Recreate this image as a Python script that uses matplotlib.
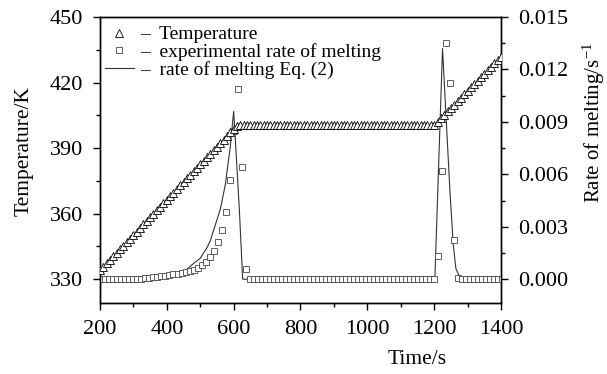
import matplotlib.pyplot as plt
from matplotlib.lines import Line2D
from matplotlib.ticker import MultipleLocator, FormatStrFormatter

plt.rcParams['font.family'] = ['Liberation Serif', 'DejaVu Serif']
plt.rcParams['mathtext.fontset'] = 'stix'

# 温度数据 (每10 s)
temp_time = [
    200, 210, 220, 230, 240, 250, 260, 270, 280, 290, 300, 310, 320, 330, 340,
    350, 360, 370, 380, 390, 400, 410, 420, 430, 440, 450, 460, 470, 480, 490,
    500, 510, 520, 530, 540, 550, 560, 570, 580, 590, 600, 610, 620, 630, 640,
    650, 660, 670, 680, 690, 700, 710, 720, 730, 740, 750, 760, 770, 780, 790,
    800, 810, 820, 830, 840, 850, 860, 870, 880, 890, 900, 910, 920, 930, 940,
    950, 960, 970, 980, 990, 1000, 1010, 1020, 1030, 1040, 1050, 1060, 1070,
    1080, 1090, 1100, 1110, 1120, 1130, 1140, 1150, 1160, 1170, 1180, 1190,
    1200, 1210, 1220, 1230, 1240, 1250, 1260, 1270, 1280, 1290, 1300, 1310,
    1320, 1330, 1340, 1350, 1360, 1370, 1380, 1390, 1400]
temperature = [
    334.0, 335.6, 337.2, 338.9, 340.5, 342.1, 343.7, 345.3, 347.0, 348.6,
    350.2, 351.8, 353.4, 355.1, 356.7, 358.3, 359.9, 361.5, 363.2, 364.8,
    366.4, 368.0, 369.6, 371.3, 372.9, 374.5, 376.1, 377.7, 379.4, 381.0,
    382.6, 384.2, 385.8, 387.5, 389.1, 390.7, 392.3, 393.9, 395.6, 397.2,
    398.8, 400.2, 400.5, 400.5, 400.5, 400.5, 400.5, 400.5, 400.5, 400.5,
    400.5, 400.5, 400.5, 400.5, 400.5, 400.5, 400.5, 400.5, 400.5, 400.5,
    400.5, 400.5, 400.5, 400.5, 400.5, 400.5, 400.5, 400.5, 400.5, 400.5,
    400.5, 400.5, 400.5, 400.5, 400.5, 400.5, 400.5, 400.5, 400.5, 400.5,
    400.5, 400.5, 400.5, 400.5, 400.5, 400.5, 400.5, 400.5, 400.5, 400.5,
    400.5, 400.5, 400.5, 400.5, 400.5, 400.5, 400.5, 400.5, 400.5, 400.5,
    400.5, 402.1, 403.7, 405.2, 406.8, 408.4, 409.9, 411.5, 413.1, 414.7,
    416.2, 417.8, 419.4, 420.9, 422.5, 424.1, 425.6, 427.2, 428.8, 430.4,
    431.9]

# 实验熔化速率 (每12 s)
exp_time = [
    192, 204, 216, 228, 240, 252, 264, 276, 288, 300, 312, 324, 336, 348, 360,
    372, 384, 396, 408, 420, 432, 444, 456, 468, 480, 492, 504, 516, 528, 540,
    552, 564, 576, 588, 600, 612, 624, 636, 648, 660, 672, 684, 696, 708, 720,
    732, 744, 756, 768, 780, 792, 804, 816, 828, 840, 852, 864, 876, 888, 900,
    912, 924, 936, 948, 960, 972, 984, 996, 1008, 1020, 1032, 1044, 1056, 1068,
    1080, 1092, 1104, 1116, 1128, 1140, 1152, 1164, 1176, 1188, 1200, 1212,
    1224, 1236, 1248, 1260, 1272, 1284, 1296, 1308, 1320, 1332, 1344, 1356,
    1368, 1380, 1392, 1404]
exp_rate = [
    0, 0, 0, 0, 0, 0, 0, 0, 0, 0, 0, 0,
    0.00005, 0.00008, 0.0001, 0.00013, 0.00016, 0.0002, 0.00024, 0.00028,
    0.00032, 0.00036, 0.00041, 0.00047, 0.00055, 0.00066, 0.0008, 0.00098,
    0.00125, 0.00163, 0.00213, 0.0028, 0.00385, 0.00565, 0.0085, 0.0109,
    0.0064, 0.00057,
    0, 0, 0, 0, 0, 0, 0, 0, 0, 0, 0, 0, 0, 0, 0, 0, 0, 0, 0, 0, 0, 0, 0, 0,
    0, 0, 0, 0, 0, 0, 0, 0, 0, 0, 0, 0, 0, 0, 0, 0, 0, 0, 0, 0, 0, 0, 0,
    0.0013, 0.0062, 0.0135, 0.0112, 0.00225, 0.00007,
    0, 0, 0, 0, 0, 0, 0, 0, 0, 0, 0]

# 方程(2)计算的熔化速率
model_time = [200, 330, 380, 420, 450, 480, 500, 520, 530, 540, 560, 575,
              590, 600, 605, 617, 627, 1202, 1225, 1235, 1247, 1257, 1265,
              1277, 1290, 1400]
model_rate = [0, 0, 0.0001, 0.0002, 0.0004, 0.0009, 0.0012, 0.0018, 0.0022,
              0.0028, 0.0040, 0.0054, 0.0076, 0.0096, 0.0080, 0.0040, 0.0,
              0, 0.0132, 0.0095, 0.0051, 0.0020, 0.0006, 0.0001, 0, 0]

fig = plt.figure(figsize=(6.07, 3.74), dpi=100)
ax = fig.add_axes([0.1647, 0.1898, 0.6607, 0.7647])
ax2 = ax.twinx()

tri_style = dict(linestyle='none', marker='^', markersize=6,
                 markerfacecolor='white', markeredgecolor='black',
                 markeredgewidth=0.6)
sq_style = dict(linestyle='none', marker='s', markersize=5,
                markerfacecolor='white', markeredgecolor='#444444',
                markeredgewidth=0.6)

# 温度
ax.plot(temp_time, temperature, zorder=3, **tri_style)

# 速率
ax2.plot(model_time, model_rate, color='#333333', linewidth=0.8, zorder=2)
ax2.plot(exp_time, exp_rate, zorder=3, **sq_style)

ax.set_zorder(ax2.get_zorder() + 1)
ax.patch.set_visible(False)

ax.set_xlim(200, 1400)
ax.set_ylim(319.1, 450)
ax2.set_ylim((319.1 - 330) * 0.000125, 0.015)

ax.xaxis.set_major_locator(MultipleLocator(200))
ax.xaxis.set_minor_locator(MultipleLocator(100))
ax.yaxis.set_major_locator(MultipleLocator(30))
ax.yaxis.set_minor_locator(MultipleLocator(15))
ax2.yaxis.set_major_locator(MultipleLocator(0.003))
ax2.yaxis.set_minor_locator(MultipleLocator(0.0015))
ax2.yaxis.set_major_formatter(FormatStrFormatter('%.3f'))

for a in (ax, ax2):
    a.tick_params(which='major', direction='out', length=5, width=1,
                  labelsize=16, pad=7)
    a.tick_params(which='minor', direction='out', length=3, width=1)
    for s in a.spines.values():
        s.set_linewidth(1.0)
ax.tick_params(top=False, which='both')
ax2.tick_params(top=False, which='both')

ax.set_ylabel('Temperature/K', fontsize=15.5)
ax.yaxis.set_label_coords(-0.165, 0.53)
ax2.set_ylabel('Rate of melting/s$^{\\mathregular{-1}}$', fontsize=15,
               rotation=90)
ax2.yaxis.set_label_coords(1.198, 0.63)
ax.set_xlabel('Time/s', fontsize=15.5)
ax.xaxis.set_label_coords(0.79, -0.165)

handles = [
    Line2D([], [], **tri_style),
    Line2D([], [], **sq_style),
    Line2D([], [], color='#333333', linewidth=0.8),
]
labels = ['\u2013  Temperature', '\u2013  experimental rate of melting',
          '\u2013  rate of melting Eq. (2)']
ax.legend(handles, labels, loc='upper left', bbox_to_anchor=(-0.01, 1.0),
          frameon=False, fontsize=14, handlelength=1.5, handletextpad=0.3,
          labelspacing=0.0, borderpad=0.15, borderaxespad=0.3)

fig.savefig('out.png', dpi=100)
